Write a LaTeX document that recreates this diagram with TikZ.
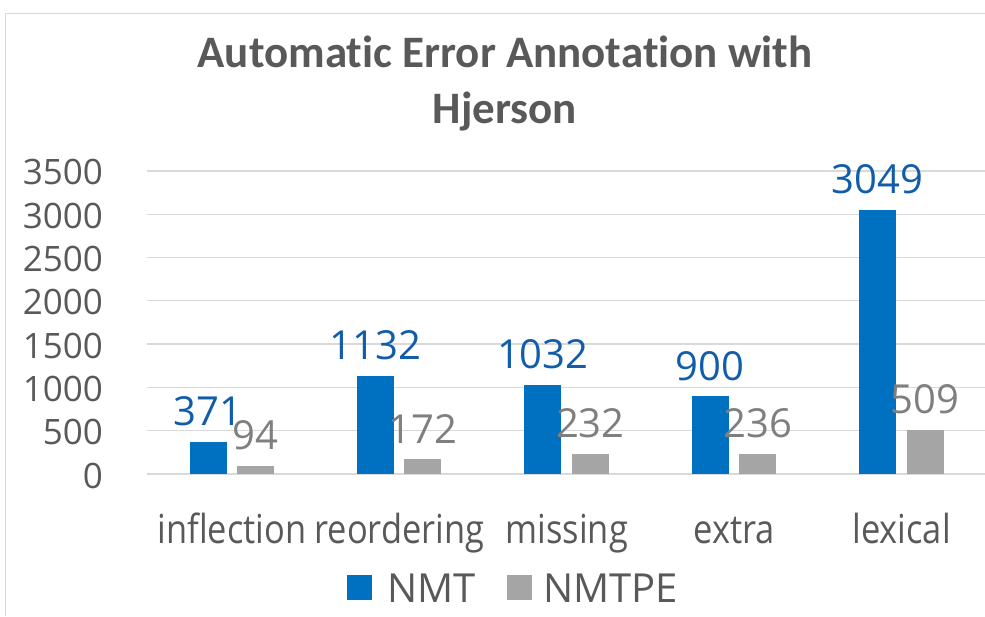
\documentclass[tikz,border=0pt]{standalone}
\usepackage{fontspec}
\usepackage{graphicx}
\setmainfont{Open Sans}[Ligatures=NoCommon]
\newfontfamily\titlefont{Carlito}[Ligatures=NoCommon]
\usetikzlibrary{positioning}

\definecolor{nmtblue}{HTML}{0070C0}
\definecolor{nmttext}{HTML}{125DAA}
\definecolor{pegray}{HTML}{A5A5A5}
\definecolor{petext}{HTML}{7F7F7F}
\definecolor{inktext}{HTML}{595959}
\definecolor{gridline}{HTML}{D9D9D9}

\begin{document}
\begin{tikzpicture}[
    x=1pt, y=-1pt,
    title/.style={font=\titlefont\bfseries\fontsize{45}{56}\selectfont, text=inktext, inner sep=0pt, align=center},
    ticklabel/.style={font=\fontsize{35}{40}\selectfont, text=inktext, inner sep=0pt, anchor=base east},
    catlabel/.style={font=\fontsize{40}{44}\selectfont, text=inktext, inner sep=0pt, anchor=base},
    vallabel/.style={font=\fontsize{40}{44}\selectfont, inner sep=0pt, anchor=base},
    legendkey/.style={minimum size=25pt, inner sep=0pt, draw=none},
    legendtext/.style={font=\fontsize{40}{44}\selectfont, text=inktext, inner sep=0pt, anchor=base west},
    grid/.style={gridline, line width=1.3pt},
    nmtbar/.style={fill=nmtblue},
    pebar/.style={fill=pegray}
]
    \path[use as bounding box] (0,0) rectangle (985,616);

    % Chart frame
    \draw[gridline, line width=1pt] (5,616) -- (5,13) -- (985,13);

    % Title
    \node[title, anchor=base] (heading1) at (505,67) {Automatic Error Annotation with};
    \node[title, anchor=base] (heading2) at (505,123) {Hjerson};

    % Gridlines and axis values
    \foreach \k in {0,...,7} {
        \draw[grid] (147,{474-\k*43.3}) -- (985,{474-\k*43.3});
        \pgfmathtruncatemacro{\v}{\k*500}
        \node[ticklabel] (tick\k) at (103,{488-\k*43.3}) {\v};
    }

    % Bars, values and categories
    \foreach \i/\cat/\a/\b in {0/inflection/371/94, 1/reordering/1132/172, 2/missing/1032/232, 3/extra/900/236, 4/lexical/3049/509} {
        \pgfmathsetmacro{\c}{232+167.4*\i}
        \fill[nmtbar] ({\c-42.5},474) rectangle ({\c-5.5},{474-\a*0.0866});
        \fill[pebar] ({\c+5},474) rectangle ({\c+42},{474-\b*0.0866});
        \node[vallabel, text=nmttext] (nmt\i) at ({\c-24},{458-\a*0.0866}) {\a};
        \node[vallabel, text=petext] (pe\i) at ({\c+23.5},{458-\b*0.0866}) {\b};
        \node[catlabel] (cat\i) at (\c,543) {\scalebox{0.86}[1]{\cat}};
    }

    % Legend
    \node[legendkey, fill=nmtblue] (keynmt) at (359.5,587.5) {};
    \node[legendtext] (labnmt) at (387,602) {NMT};
    \node[legendkey, fill=pegray] (keype) at (519,587.5) {};
    \node[legendtext] (labpe) at (543,602) {NMTPE};
\end{tikzpicture}
\end{document}
